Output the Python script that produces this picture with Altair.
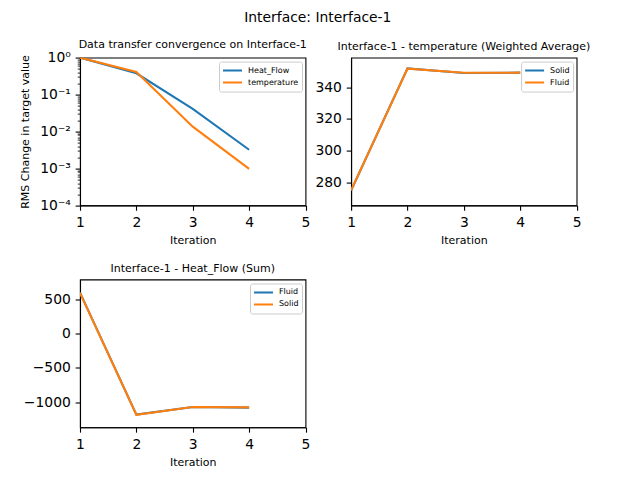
import altair as alt
import pandas as pd

# ---- data ----
iterations = [1, 2, 3, 4]

conv_series = ["Heat_Flow", "temperature"]
conv_heat_flow = [1.0, 0.376, 0.041, 0.0032]
conv_temperature = [1.0, 0.41, 0.0135, 0.00097]

temp_series = ["Solid", "Fluid"]
temp_solid = [274.8, 351.9, 349.0, 349.2]
temp_fluid = [275.0, 351.7, 349.1, 349.2]

heat_series = ["Fluid", "Solid"]
heat_fluid = [595, -1180, -1068, -1078]
heat_solid = [590, -1182, -1070, -1074]

x_ticks = [1, 2, 3, 4, 5]
log_ticks = [m * 10.0 ** k for k in (-4, -3, -2, -1) for m in range(1, 10)] + [1.0]
temp_ticks = [280, 300, 320, 340]
heat_ticks = [-1000, -500, 0, 500]

BLUE = "#1f77b4"
ORANGE = "#ff7f0e"
FONT = "DejaVu Sans"


def frame(series_names, columns):
    rows = []
    for name, vals in zip(series_names, columns):
        for it, v in zip(iterations, vals):
            rows.append({"iteration": it, "value": v, "series": name})
    return pd.DataFrame(rows)


def panel(df, series_names, title, yscale, yaxis, title_dy=0):
    color = alt.Color(
        "series:N",
        scale=alt.Scale(domain=series_names, range=[BLUE, ORANGE]),
        legend=alt.Legend(
            title=None,
            orient="top-right",
            offset=4,
            padding=3,
            symbolType="stroke",
            symbolSize=361,
            symbolStrokeWidth=2,
            labelFontSize=8,
            labelFont=FONT,
            labelColor="black",
            labelOffset=5,
            rowPadding=0,
            clipHeight=12,
            strokeColor="#cccccc",
            fillColor="rgba(255,255,255,0.8)",
            cornerRadius=2,
        ),
    )
    x = alt.X(
        "iteration:Q",
        scale=alt.Scale(domain=[1, 5], nice=False, zero=False),
        axis=alt.Axis(title="Iteration", values=x_ticks, format="d"),
    )
    y = alt.Y("value:Q", scale=yscale, axis=yaxis)
    layers = [
        alt.Chart(df)
        .transform_filter(alt.datum.series == s)
        .mark_line(strokeWidth=2.08, clip=True)
        .encode(x=x, y=y, color=color)
        for s in series_names
    ]
    return alt.layer(*layers).properties(
        width=225.5,
        height=147.8,
        title=alt.TitleParams(
            title,
            fontSize=11,
            font=FONT,
            fontWeight="normal",
            color="black",
            anchor="middle",
            frame="group",
            offset=6,
            dy=title_dy,
        ),
    )


is_major = "abs(log(datum.value)/LN10 - round(log(datum.value)/LN10)) < 0.001"

p1 = panel(
    frame(conv_series, [conv_heat_flow, conv_temperature]),
    conv_series,
    "Data transfer convergence on Interface-1",
    alt.Scale(type="log", domain=[1e-4, 1], nice=False),
    alt.Axis(
        title="RMS Change in target value",
        values=log_ticks,
        labelExpr=is_major
        + " ? '10' + ['⁰','⁻¹','⁻²','⁻³','⁻⁴'][-round(log(datum.value)/LN10)] : ''",
        tickSize={"condition": {"test": is_major, "value": 4.86}, "value": 2.78},
        tickWidth={"condition": {"test": is_major, "value": 1.1}, "value": 0.83},
        titlePadding=9.5,
    ),
    title_dy=5,
)

p2 = panel(
    frame(temp_series, [temp_solid, temp_fluid]),
    temp_series,
    "Interface-1 - temperature (Weighted Average)",
    alt.Scale(domain=[265.4, 358.7], nice=False, zero=False),
    alt.Axis(title=None, values=temp_ticks, format="d"),
    title_dy=0,
)

p3 = panel(
    frame(heat_series, [heat_fluid, heat_solid]),
    heat_series,
    "Interface-1 - Heat_Flow (Sum)",
    alt.Scale(domain=[-1364, 785], nice=False, zero=False),
    alt.Axis(title=None, values=heat_ticks, format="d"),
    title_dy=1,
)

chart = (
    alt.concat(p1, p2, p3, columns=2, spacing={"row": 73.9, "column": 45.1}, bounds="flush")
    .resolve_scale(color="independent", x="independent", y="independent")
    .resolve_legend(color="independent")
    .properties(
        title=alt.TitleParams(
            "Interface: Interface-1",
            fontSize=13.9,
            font=FONT,
            fontWeight="normal",
            color="black",
            anchor="middle",
            dx=13,
            dy=-9,
        ),
        autosize=alt.AutoSizeParams(type="none"),
        padding={"left": 72, "top": 49.6, "right": 552, "bottom": 414},
    )
    .configure_view(stroke="black", strokeWidth=1.1)
    .configure_axis(
        grid=False,
        domainColor="black",
        domainWidth=1.1,
        tickColor="black",
        tickSize=4.86,
        tickWidth=1.1,
        labelPadding=4.86,
        labelFont=FONT,
        labelFontSize=13.9,
        labelColor="black",
        labelFlush=False,
        labelOverlap=False,
        labelBound=False,
        titleFont=FONT,
        titleFontSize=11,
        titleFontWeight="normal",
        titleColor="black",
        titlePadding=5.6,
    )
)

chart.save("out.html", embed_options={"renderer": "svg", "actions": False})
